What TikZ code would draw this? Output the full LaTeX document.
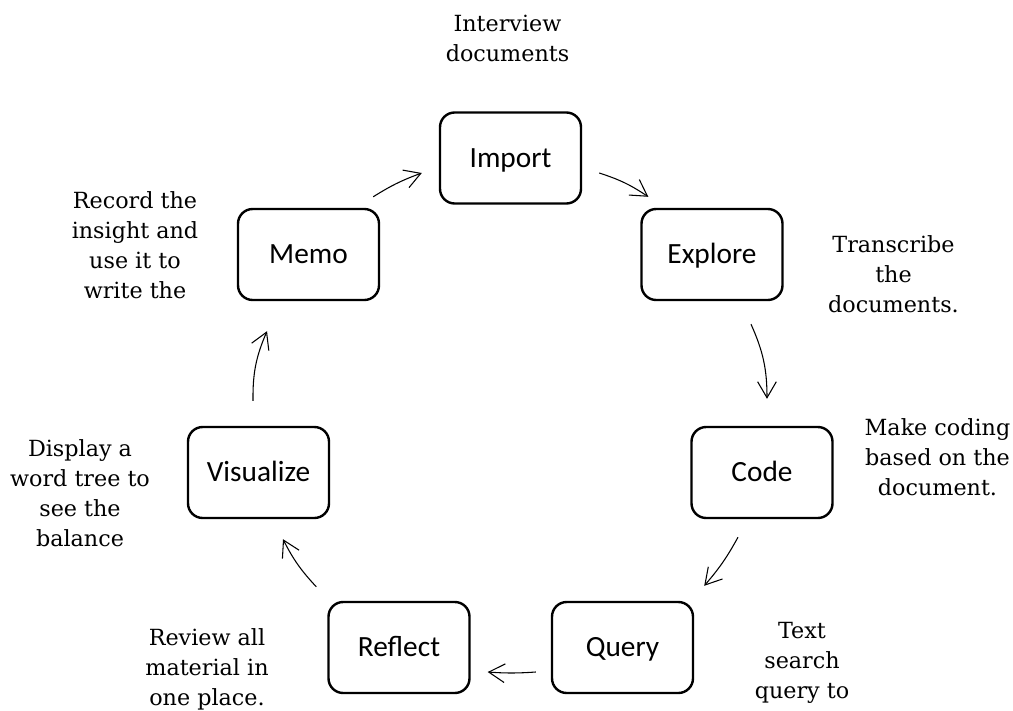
\documentclass[tikz,border=0pt]{standalone}
\usepackage{fontspec}
\setmainfont{DejaVu Serif}
\newfontfamily\boxfont{Carlito}
\usetikzlibrary{arrows.meta,calc}
\begin{document}
\begin{tikzpicture}[x=0.75pt,y=-0.75pt,
  stagebox/.style={draw, line width=1.8pt, rounded corners=11pt,
    minimum width=105.75pt, minimum height=68.25pt, inner sep=0pt,
    font=\boxfont\fontsize{22pt}{26pt}\selectfont, text height=14pt, text depth=0pt},
  note/.style={align=center, anchor=base, inner sep=0pt,
    font=\fontsize{16.7pt}{22.5pt}\selectfont},
  flow/.style={line width=0.8pt, -{Straight Barb[length=12pt,width=14pt]}}
]
\useasboundingbox (0,0) rectangle (1013,710);

\node[stagebox] (import)    at (510.5,158)   {Import};
\node[stagebox] (explore)   at (712,254.5)   {Explore};
\node[stagebox] (code)      at (762,472.5)   {Code};
\node[stagebox] (query)     at (622.5,647.5) {Query};
\node[stagebox] (reflect)   at (399,647.5)   {Reflect};
\node[stagebox] (visualize) at (258.5,472.5) {Visualize};
\node[stagebox] (memo)      at (308.5,254.5) {Memo};

\draw[flow] ($(memo.north east)+(-7,-11)$) to[bend left=6] ($(import.west)+(-17,15)$);
\draw[flow] ($(import.east)+(17,15)$) to[bend left=8] ($(explore.north west)+(8,-11)$);
\draw[flow] ($(explore.south)+(39,23)$) to[bend left=12] ($(code.north)+(5,-27)$);
\draw[flow] ($(code.south)+(-24,18)$) to[bend left=6] ($(query.north east)+(10,-15)$);
\draw[flow] ($(query.west)+(-15,24.5)$) to[bend left=4] ($(reflect.east)+(17,24.5)$);
\draw[flow] ($(reflect.north west)+(-11,-14)$) to[bend left=8] ($(visualize.south)+(24.5,20)$);
\draw[flow] ($(visualize.north)+(-5.5,-25)$) to[bend left=12] ($(memo.south)+(-41.5,30)$);

\node[note] (nimport)  at (507.5,62)  {Interview\\documents};
\node[note] (nmemo)    at (135,298)   {Record the\\insight and\\use it to\\write the};
\node[note] (nexplore) at (893.5,312) {Transcribe\\the\\documents.};
\node[note] (ncode)    at (937.5,495) {Make coding\\based on the\\document.};
\node[note] (nquery)   at (802,698)   {Text\\search\\query to};
\node[note] (nreflect) at (207,705)   {Review all\\material in\\one place.};
\node[note] (nvis)     at (80,546)    {Display a\\word tree to\\see the\\balance};
\end{tikzpicture}
\end{document}
